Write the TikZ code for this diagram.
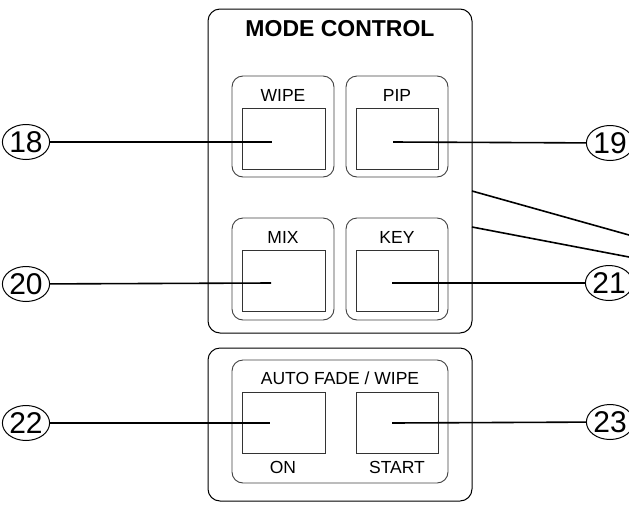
\documentclass[tikz,border=0pt]{standalone}
\usepackage{fontspec}
\setmainfont{Liberation Sans}
\usetikzlibrary{shapes.geometric}
\begin{document}
\begin{tikzpicture}[x=1pt,y=-1pt,
 panel/.style={draw=black, line width=1pt, rounded corners=12pt},
 grp/.style={draw=black!75, line width=0.9pt, rounded corners=11pt},
 btn/.style={draw=black!80, line width=0.9pt},
 lbl/.style={font=\fontsize{17.5}{20}\selectfont, inner sep=0pt, anchor=base},
 title/.style={font=\bfseries\fontsize{23}{26}\selectfont, inner sep=0pt, anchor=base},
 callout/.style={draw, ellipse, line width=1pt, minimum width=38pt, minimum height=35pt, inner sep=0pt, font=\fontsize{30}{32}\selectfont},
 lead/.style={line width=1.6pt}]
\useasboundingbox (0,0) rectangle (629,504);
% panels
\draw[panel] (208,9) rectangle (472,333);
\draw[panel] (208,348) rectangle (472,501);
\node[title] (mc) at (340,36) {MODE CONTROL};
% groups
\draw[grp] (232,76) rectangle (334,177);
\draw[grp] (346,76) rectangle (448,177);
\draw[grp] (232,218) rectangle (334,320);
\draw[grp] (346,218) rectangle (448,320);
\draw[grp] (232,360) rectangle (448,483);
% labels
\node[lbl] (lwipe) at (283,101) {WIPE};
\node[lbl] (lpip) at (397,101) {PIP};
\node[lbl] (lmix) at (283,243) {MIX};
\node[lbl] (lkey) at (397,243) {KEY};
\node[lbl] (lauto) at (340,384) {AUTO FADE / WIPE};
\node[lbl] (lon) at (283,473) {ON};
\node[lbl] (lstart) at (397,473) {START};
% buttons
\draw[btn] (242,108) rectangle (325,169);
\draw[btn] (356,108) rectangle (438,169);
\draw[btn] (242,250) rectangle (325,311);
\draw[btn] (356,250) rectangle (438,311);
\draw[btn] (242,392) rectangle (325,453);
\draw[btn] (356,392) rectangle (438,453);
% callouts
\node[callout] (c18) at (26,142) {18};
\node[callout] (c19) at (610,143) {19};
\node[callout] (c20) at (26,284) {20};
\node[callout] (c21) at (609,283) {21};
\node[callout] (c22) at (26,423) {22};
\node[callout] (c23) at (610,422) {23};
% leader end points
\coordinate (p18) at (272,142);
\coordinate (p19) at (393,142);
\coordinate (p20) at (271,283);
\coordinate (p21) at (392,283);
\coordinate (p22) at (270,423);
\coordinate (p23) at (392,423);
\draw[lead] (c18) -- (p18);
\draw[lead] (c19) -- (p19);
\draw[lead] (c20) -- (p20);
\draw[lead] (c21) -- (p21);
\draw[lead] (c22) -- (p22);
\draw[lead] (c23) -- (p23);
% diagonal leaders
\coordinate (d1a) at (472,191);
\coordinate (d1b) at (629,235);
\coordinate (d2a) at (472,227);
\coordinate (d2b) at (629,257);
\draw[lead] (d1a) -- (d1b);
\draw[lead] (d2a) -- (d2b);
\end{tikzpicture}
\end{document}
